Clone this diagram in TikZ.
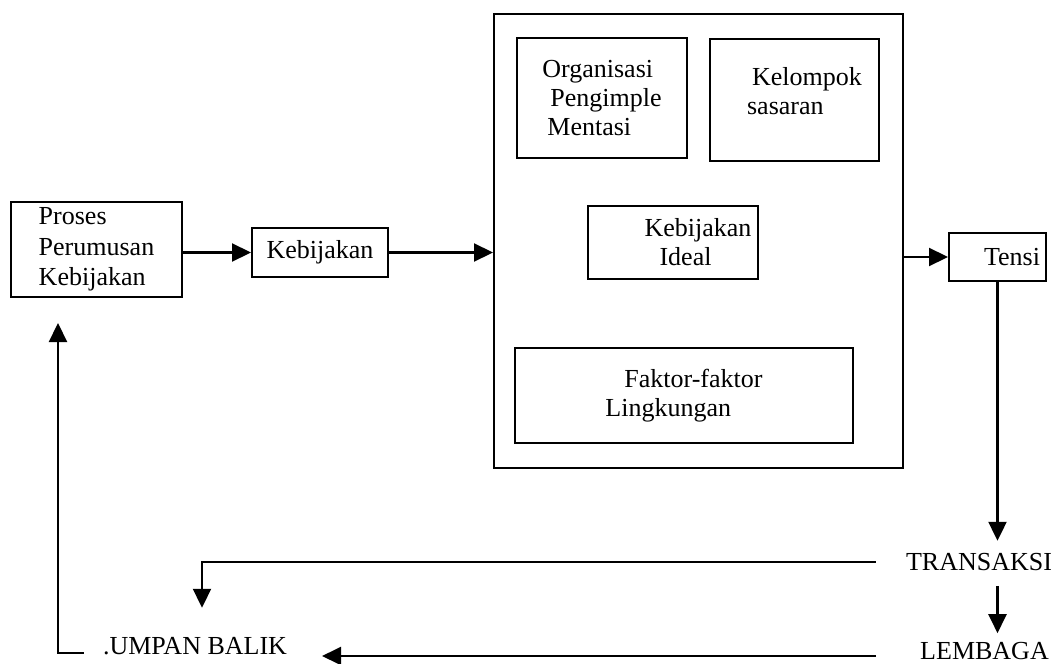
\documentclass[tikz,border=0pt]{standalone}
\usepackage{fontspec}
\setmainfont{Liberation Serif}
\usetikzlibrary{arrows.meta}

\begin{document}
\begin{tikzpicture}[x=0.5pt,y=-0.5pt,>={Triangle[length=9.5pt,width=9pt]},line width=1.1pt,main node/.style={rectangle,draw,line width=1pt,align=left,inner sep=0pt,font=\fontsize{13}{14.5}\selectfont}, text node/.style={font=\fontsize{13}{14.5}\selectfont}]

  \useasboundingbox (0,0) rectangle (1056,664);

  \node[main node,minimum width=85.5pt,minimum height=47.5pt,font=\fontsize{13}{15.25}\selectfont] (proses) at (96.5,249.5) {Proses\\Perumusan\\Kebijakan};
  \node[main node,minimum width=68pt,minimum height=24.5pt] (kebijakan) at (320,252.5) {Kebijakan};
  \node[main node,minimum width=204.5pt,minimum height=227pt] (impl) at (698.5,241) {};
  \node[main node,minimum width=85pt,minimum height=60pt] (org) at (602,98) {Organisasi\\\hspace*{4pt}Pengimple\\\hspace*{2.5pt}Mentasi};
  \node[main node,minimum width=84.5pt,minimum height=61pt,text depth=9.5pt] (kelompok) at (794.5,100) {\hspace*{12.5pt}Kelompok\\\hspace*{10pt}sasaran};
  \node[main node,minimum width=85pt,minimum height=36.5pt] (ideal) at (673,242.5) {\hspace*{25pt}Kebijakan\\\hspace*{32.5pt}Ideal};
  \node[main node,minimum width=169pt,minimum height=47.5pt] (faktor) at (684,395.5) {\hspace*{9.5pt}Faktor-faktor\\Lingkungan};
  \node[main node,minimum width=48.5pt,minimum height=24pt] (tensi) at (997.5,257) {\hspace*{14.5pt}Tensi};
  \node[text node] (transaksi) at (979,562) {TRANSAKSI};
  \node[text node] (lembaga) at (984.5,651) {LEMBAGA};
  \node[text node] (umpan) at (195,646.5) {.UMPAN BALIK};

  \coordinate (fb) at ([yshift=-2.5pt]lembaga.west);
  \coordinate (up) at ([yshift=-3.25pt]umpan.west);

  \draw[->] (proses.east |- kebijakan.west) -- (kebijakan.west);
  \draw[->] (kebijakan.east) -- (kebijakan.east -| impl.west);
  \draw[->] (impl.east |- tensi.west) -- (tensi.west);
  \draw[->,shorten >=2.35pt] (tensi.south) -- (tensi.south |- transaksi.north);
  \draw[->,shorten <=3.65pt,shorten >=0.65pt] (tensi.south |- transaksi.south) -- (tensi.south |- lembaga.north);
  \draw[->,shorten <=11.15pt,shorten >=11.1pt] (transaksi.west) -| ([xshift=3.5pt]umpan.north);
  \draw[->,shorten <=18.15pt,shorten >=13.65pt] (fb) -- (fb -| umpan.east);
  \draw[->,shorten <=5.65pt,shorten >=12.5pt] (up) -| ([xshift=24pt]proses.south west);
\end{tikzpicture}
\end{document}
